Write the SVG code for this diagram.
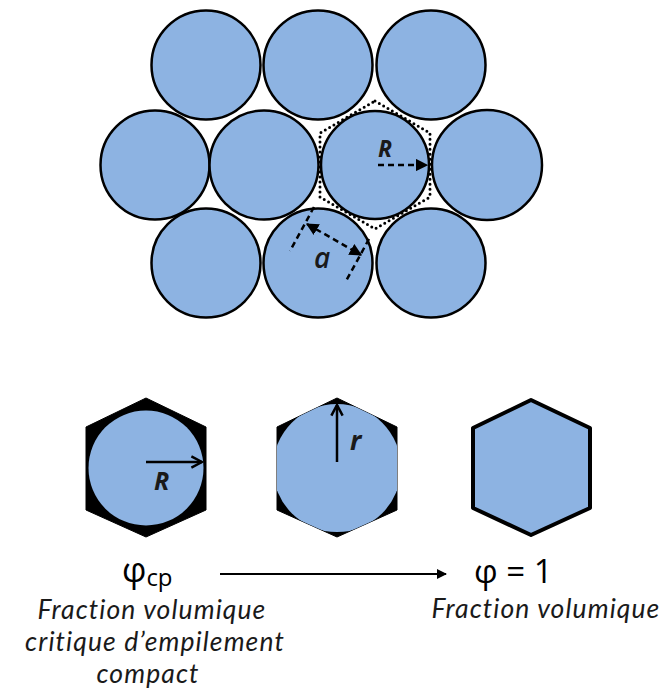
<svg xmlns="http://www.w3.org/2000/svg" width="667" height="695" viewBox="0 0 667 695">
<style>
.ball{fill:#8db3e2;stroke:#000;stroke-width:2.5}
.lbl{font-family:"Open Sans","Liberation Sans",sans-serif;font-style:italic;fill:#1a1a1a}
.cap{font-family:Lato,"Open Sans","Liberation Sans",sans-serif;font-style:italic;fill:#1a1a1a;font-size:26.5px;text-anchor:middle;font-variant-ligatures:none;letter-spacing:1.1px}
.sym{font-family:"Open Sans","Liberation Sans",sans-serif;fill:#000}
.dash{stroke:#000;stroke-width:2.5;stroke-dasharray:6 4;fill:none}
</style>
<defs>
<marker id="ah" viewBox="0 0 10 10" refX="9" refY="5" markerWidth="5" markerHeight="5" orient="auto-start-reverse" markerUnits="strokeWidth">
<path d="M0,0 L10,5 L0,10 z" fill="#000"/>
</marker>
<marker id="ac" viewBox="0 0 12 12" refX="10.5" refY="6" markerWidth="6" markerHeight="6" orient="auto" markerUnits="strokeWidth">
<path d="M2,1.5 L10.5,6 L2,10.5" fill="none" stroke="#000" stroke-width="2"/>
</marker>
<clipPath id="hx2"><polygon points="337,398 397,427 397,510 337,537 277,510 277,427"/></clipPath>
</defs>

<g id="packing">
<circle class="ball" cx="206" cy="65" r="54.5"/>
<circle class="ball" cx="318" cy="65" r="54.5"/>
<circle class="ball" cx="431" cy="65" r="54.5"/>
<circle class="ball" cx="155" cy="165" r="54.5"/>
<circle class="ball" cx="264" cy="165" r="54.5"/>
<circle class="ball" cx="375" cy="165" r="54"/>
<circle class="ball" cx="487" cy="165" r="55"/>
<circle class="ball" cx="206" cy="263" r="54.5"/>
<circle class="ball" cx="318" cy="263" r="54.5"/>
<circle class="ball" cx="431" cy="263" r="54.5"/>
</g>

<g id="cell">
<polygon points="375,101 430,133 430,197 375,229 320,197 320,133" fill="none" stroke="#000" stroke-width="3" stroke-linecap="round" stroke-dasharray="0 5"/>
</g>

<g id="connectors">
<line class="dash" x1="378" y1="165" x2="427" y2="165" marker-end="url(#ah)"/>
<line class="dash" x1="314" y1="207" x2="290" y2="251"/>
<line class="dash" x1="369" y1="239" x2="346" y2="281"/>
<line class="dash" x1="307" y1="224" x2="361" y2="255" marker-start="url(#ah)" marker-end="url(#ah)"/>
<line x1="220" y1="574" x2="446" y2="574" stroke="#000" stroke-width="2" marker-end="url(#ah)"/>
</g>

<g id="labels-top">
<text class="lbl" x="378" y="157" font-size="23" font-weight="700">R</text>
<text class="lbl" x="314" y="268" font-size="28" font-weight="600">a</text>
</g>

<g id="hex-R">
<polygon points="146,398 206,427 206,510 146,537 86,510 86,427" fill="#000" stroke="#000" stroke-width="1" stroke-linejoin="round"/>
<circle cx="146" cy="468" r="57.5" fill="#8db3e2"/>
<line x1="146" y1="462" x2="202" y2="462" stroke="#000" stroke-width="2.5" marker-end="url(#ac)"/>
<text class="lbl" x="154" y="490" font-size="25" font-weight="700">R</text>
</g>

<g id="hex-r">
<polygon points="337,398 397,427 397,510 337,537 277,510 277,427" fill="#000" stroke="#000" stroke-width="1" stroke-linejoin="round"/>
<circle cx="337" cy="468" r="64" fill="#8db3e2" clip-path="url(#hx2)"/>
<line x1="337" y1="462" x2="337" y2="405" stroke="#000" stroke-width="2.5" marker-end="url(#ac)"/>
<text class="lbl" x="350" y="450" font-size="27" font-weight="700">r</text>
</g>

<g id="hex-full">
<polygon points="531,400 590,428 590,508 531,535 473,508 473,428" fill="#8db3e2" stroke="#000" stroke-width="4" stroke-linejoin="round"/>
</g>

<g id="text-left">
<text class="sym" x="122" y="582" font-size="34">φ<tspan font-size="24" dy="4">cp</tspan></text>
<text class="cap" x="152" y="619">Fraction volumique</text>
<text class="cap" x="155" y="651">critique d’empilement</text>
<text class="cap" x="148" y="683">compact</text>
</g>

<g id="text-right">
<text class="sym" x="474" y="583" font-size="33">φ = 1</text>
<text class="cap" x="546" y="618">Fraction volumique</text>
</g>
</svg>
